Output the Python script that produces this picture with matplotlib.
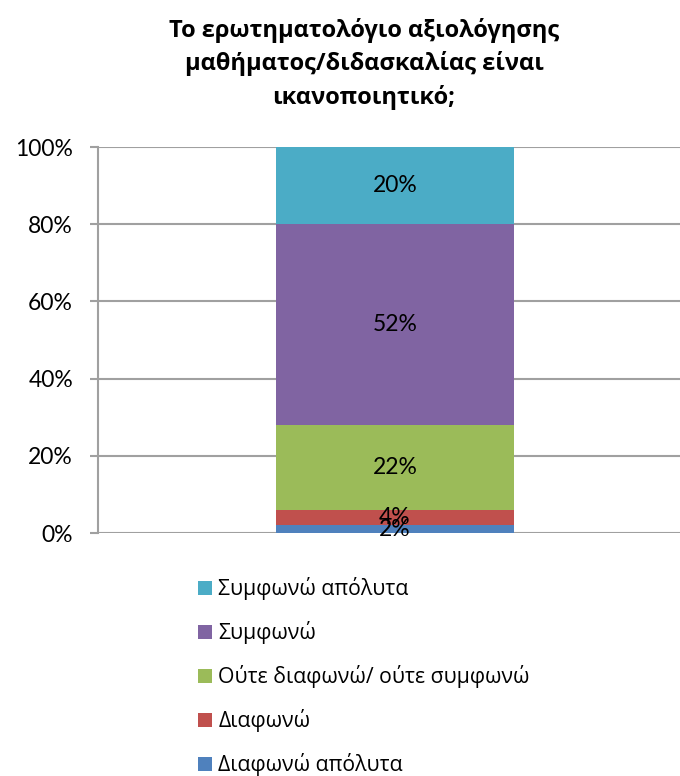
import matplotlib.pyplot as plt
import numpy as np

categories = ['Διαφωνώ απόλυτα', 'Διαφωνώ', 'Ούτε διαφωνώ/ ούτε συμφωνώ', 'Συμφωνώ', 'Συμφωνώ απόλυτα']
values = [2, 4, 22, 52, 20]
colors = ['#4F81BD', '#C0504D', '#9BBB59', '#8064A2', '#4BACC6']
yticks = [0, 20, 40, 60, 80, 100]

plt.rcParams['font.family'] = ['Open Sans', 'DejaVu Sans']

fig = plt.figure(figsize=(6.8, 7.76), dpi=100)
ax = fig.add_axes([98/680, 1-533/776, 1-98/680, (533-147)/776])

bottom = 0
handles = []
for cat, v, c in zip(categories, values, colors):
    b = ax.bar(0, v, width=1, bottom=bottom, color=c, label=cat, zorder=3)
    handles.append(b)
    ax.text(0, bottom + v/2, '%d%%' % v, ha='center', va='center', fontsize=16.5,
            family=['Lato', 'DejaVu Sans'], zorder=4)
    bottom += v

# bar spans 276..514 px, axes 98..680 px
ax.set_xlim(-0.5 - (276-98)/238, 0.5 + (680-514)/238)
ax.set_ylim(0, 100)
ax.set_yticks(yticks)
ax.set_yticklabels(['%d%%' % t for t in yticks], fontsize=16.5,
                   family=['Lato', 'DejaVu Sans'])
ax.set_xticks([])
ax.yaxis.grid(True, color='#A0A0A0', linewidth=1.5, zorder=0)
ax.tick_params(axis='y', length=6, width=1.5, color='#A0A0A0', pad=12)
for s in ['top', 'right', 'bottom']:
    ax.spines[s].set_visible(False)
ax.spines['left'].set_color('#A0A0A0')
ax.spines['left'].set_linewidth(1.5)

fig.text(364/680, 1-64/776, 'Το ερωτηματολόγιο αξιολόγησης\nμαθήματος/διδασκαλίας είναι\nικανοποιητικό;',
         ha='center', va='center', fontsize=17, fontweight='bold', linespacing=1.45)

fig.legend(handles[::-1], categories[::-1], loc='upper left', bbox_to_anchor=(179/680, 1-558/776),
           frameon=False, fontsize=15.3, handlelength=0.65, handleheight=0.65, handletextpad=0.3,
           labelspacing=0.99)

fig.savefig('out.png', dpi=100)
